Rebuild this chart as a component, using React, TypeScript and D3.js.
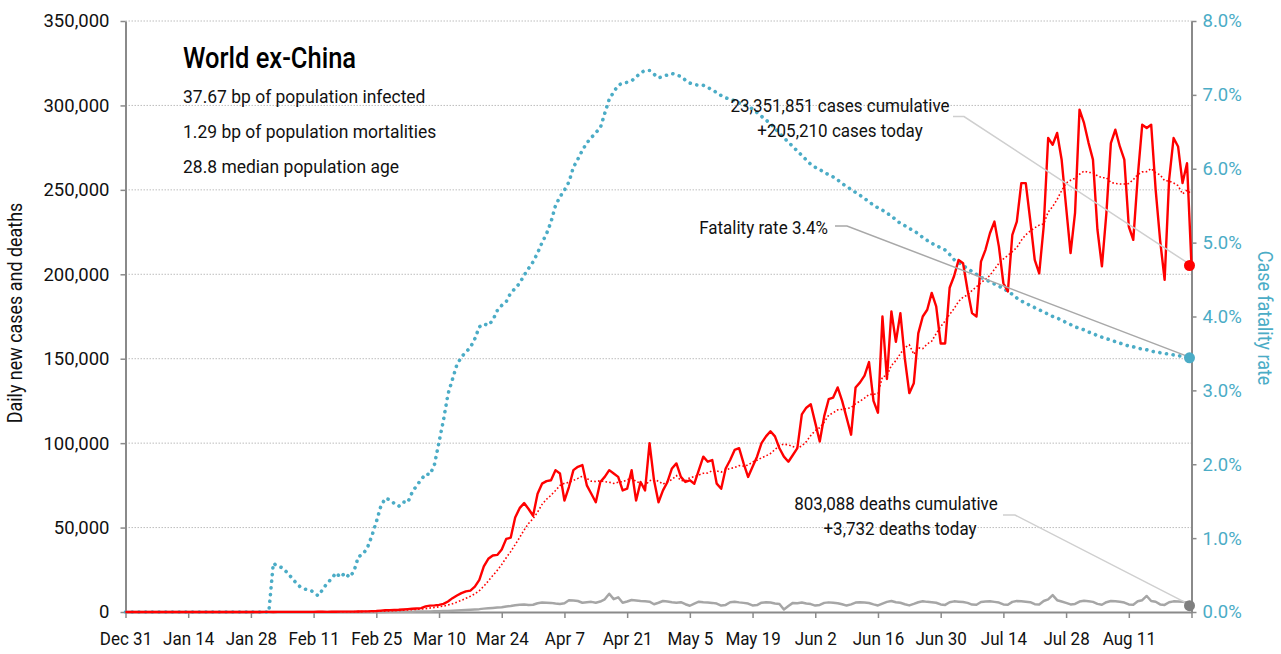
import React, { useEffect, useRef } from 'react';
import * as d3 from 'd3';

// x-axis labels, one every 14 days starting Dec 31
const dateLabels = [
  'Dec 31', 'Jan 14', 'Jan 28', 'Feb 11', 'Feb 25', 'Mar 10', 'Mar 24', 'Apr 7', 'Apr 21',
  'May 5', 'May 19', 'Jun 2', 'Jun 16', 'Jun 30', 'Jul 14', 'Jul 28', 'Aug 11'
];

// daily new cases, Dec 31 .. Aug 25 (one value per day)
const dailyCases = [
  0, 0, 0, 0, 0, 0, 0, 0, 0, 0,
  0, 0, 0, 1, 1, 2, 2, 3, 4, 6,
  8, 12, 14, 18, 25, 30, 22, 28, 35, 40,
  30, 45, 50, 40, 60, 55, 70, 60, 80, 90,
  100, 70, 80, 110, 120, 90, 150, 180, 200, 250,
  200, 250, 300, 350, 400, 500, 600, 800, 1000, 1100,
  1200, 1300, 1500, 1700, 1900, 2100, 2300, 3300, 3800, 3900,
  4200, 4800, 6200, 8200, 9800, 11200, 12200, 12700, 15000, 19000,
  27000, 31500, 33500, 33800, 37000, 43300, 44000, 56000, 61500, 64500,
  61000, 57000, 70000, 76000, 77500, 78000, 84000, 82000, 66000, 74000,
  84000, 86000, 87000, 75000, 70000, 65000, 77000, 80000, 84000, 82000,
  80000, 72000, 73000, 84000, 66000, 77000, 72000, 100000, 78000, 65000,
  72000, 77000, 85000, 88000, 80000, 77000, 78000, 76000, 84000, 92000,
  89000, 90000, 76000, 73000, 85000, 90000, 96000, 97000, 88000, 80000,
  86000, 92000, 100000, 104000, 107000, 104000, 97000, 92000, 89000, 93000,
  97000, 117000, 121000, 123000, 112000, 101000, 116000, 126000, 127000, 133000,
  125000, 115000, 105000, 133000, 136000, 140000, 148000, 125000, 118000, 175000,
  138000, 178000, 160000, 177000, 150000, 129600, 135500, 165000, 175000, 179000,
  189000, 181000, 159000, 159000, 192000, 199000, 208500, 206500, 190700, 177000,
  175000, 207500, 214500, 224300, 231200, 216400, 194700, 189800, 223400, 231200,
  254000, 254000, 232000, 208500, 200600, 228300, 280700, 276700, 283700, 268000,
  240000, 212600, 236300, 297500, 289600, 278000, 267900, 226400, 204700, 236300,
  277700, 285600, 275700, 267900, 228300, 220400, 257900, 288600, 286600, 288600,
  250000, 220000, 196700, 255900, 280700, 275700, 254000, 265800, 205210
];

// daily new deaths
const dailyDeaths = [
  0, 0, 0, 0, 0, 0, 0, 0, 0, 0,
  0, 0, 0, 0, 0, 0, 0, 0, 0, 0,
  0, 0, 0, 0, 0, 0, 0, 0, 0, 0,
  0, 0, 0, 1, 0, 0, 0, 0, 0, 0,
  0, 0, 1, 1, 2, 1, 2, 3, 5, 8,
  10, 15, 20, 25, 30, 40, 50, 60, 70, 80,
  100, 120, 150, 180, 200, 230, 270, 300, 340, 380,
  450, 550, 650, 750, 850, 1000, 1200, 1350, 1500, 1700,
  2000, 2200, 2400, 2600, 2800, 3300, 3600, 4000, 4300, 4400,
  4100, 4300, 5200, 5600, 5500, 5400, 5000, 4800, 5200, 7000,
  6800, 6500, 5500, 5800, 6000, 5500, 6200, 7500, 10800, 7600,
  8700, 5500, 6200, 7100, 6800, 6500, 6300, 6100, 4600, 5500,
  6500, 6200, 5800, 5500, 5800, 4600, 3700, 5000, 6100, 5800,
  5600, 5400, 5000, 3800, 4200, 5800, 6100, 5700, 5400, 5000,
  3900, 4100, 5500, 5800, 5600, 5000, 4700, 1500, 3500, 5400,
  5200, 5600, 5000, 4700, 3800, 4200, 5400, 5700, 5500, 5200,
  4600, 3800, 4500, 5600, 5800, 5600, 5300, 4500, 3900, 5000,
  6000, 6500, 5800, 5500, 4600, 3900, 4800, 5800, 6400, 6000,
  5800, 5500, 4500, 4200, 5800, 6300, 6100, 5900, 5400, 4400,
  4300, 5900, 6200, 6400, 6000, 5600, 4500, 4300, 6000, 6500,
  6400, 6100, 5800, 4600, 4400, 6500, 7500, 10000, 7000, 6200,
  5400, 4500, 4800, 6200, 6600, 6400, 6000, 4800, 4300, 5800,
  6500, 6400, 6100, 5600, 4500, 4300, 6400, 7000, 9500, 6500,
  6100, 4500, 4200, 5800, 6300, 6200, 6000, 5700, 3732
];

// case fatality rate, percent
const fatalityRate = [
  0, 0, 0, 0, 0, 0, 0, 0, 0, 0,
  0, 0, 0, 0, 0, 0, 0, 0, 0, 0,
  0, 0, 0, 0, 0, 0, 0, 0, 0, 0,
  0, 0, 0, 0.66, 0.62, 0.6, 0.54, 0.47, 0.4, 0.34,
  0.31, 0.3, 0.27, 0.22, 0.3, 0.39, 0.45, 0.53, 0.47, 0.53,
  0.47, 0.55, 0.75, 0.78, 0.87, 1.03, 1.22, 1.43, 1.54, 1.52,
  1.47, 1.43, 1.49, 1.48, 1.62, 1.71, 1.79, 1.87, 1.86, 2.0,
  2.3, 2.6, 2.95, 3.15, 3.35, 3.45, 3.52, 3.58, 3.7, 3.86,
  3.9, 3.88, 3.95, 4.08, 4.15, 4.2, 4.32, 4.38, 4.45, 4.56,
  4.65, 4.74, 4.86, 5.0, 5.12, 5.28, 5.5, 5.62, 5.71, 5.82,
  6.02, 6.13, 6.25, 6.35, 6.42, 6.49, 6.55, 6.75, 6.94, 7.04,
  7.13, 7.16, 7.17, 7.19, 7.24, 7.3, 7.33, 7.33, 7.28, 7.23,
  7.25, 7.27, 7.29, 7.27, 7.25, 7.2, 7.16, 7.14, 7.13, 7.13,
  7.1, 7.07, 7.03, 6.99, 6.96, 6.94, 6.92, 6.89, 6.87, 6.84,
  6.81, 6.76, 6.71, 6.66, 6.61, 6.55, 6.48, 6.42, 6.36, 6.3,
  6.24, 6.18, 6.12, 6.06, 6.02, 5.99, 5.95, 5.92, 5.89, 5.85,
  5.8, 5.76, 5.72, 5.68, 5.64, 5.6, 5.55, 5.51, 5.47, 5.44,
  5.4, 5.36, 5.31, 5.26, 5.23, 5.19, 5.16, 5.12, 5.07, 5.03,
  4.99, 4.96, 4.93, 4.9, 4.84, 4.77, 4.73, 4.69, 4.65, 4.61,
  4.57, 4.53, 4.5, 4.47, 4.44, 4.41, 4.38, 4.34, 4.3, 4.25,
  4.21, 4.18, 4.15, 4.12, 4.09, 4.06, 4.03, 4.0, 3.98, 3.95,
  3.92, 3.89, 3.86, 3.84, 3.82, 3.79, 3.77, 3.74, 3.72, 3.7,
  3.68, 3.66, 3.64, 3.62, 3.6, 3.59, 3.57, 3.56, 3.55, 3.53,
  3.52, 3.51, 3.5, 3.49, 3.48, 3.47, 3.46, 3.45, 3.44
];

const leftTicks = [0, 50000, 100000, 150000, 200000, 250000, 300000, 350000];
const rightTicks = [0, 1, 2, 3, 4, 5, 6, 7, 8];

const chartTitle = 'World ex-China';
const infoLines = [
  '37.67 bp of population infected',
  '1.29 bp of population mortalities',
  '28.8 median population age'
];
const casesNote = ['23,351,851 cases cumulative', '+205,210 cases today'];
const deathsNote = ['803,088 deaths cumulative', '+3,732 deaths today'];
const fatalityNote = 'Fatality rate 3.4%';

const FONT = "Roboto, 'Noto Sans', sans-serif";
const TEAL = '#4BACC6';
const RED = '#FF0000';
const SQ = 0.92; // horizontal squeeze to mimic the condensed face

// text helper: places a squeezed text with its anchor at (x, y)
function label(g, x, y, txt, { size = 18, anchor = 'start', fill = '#111', weight = 400, rotate = 0, sq = SQ } = {}) {
  g.append('text')
    .attr('transform', `translate(${x},${y}) rotate(${rotate}) scale(${sq},1)`)
    .attr('text-anchor', anchor)
    .attr('font-family', FONT)
    .attr('font-size', size)
    .attr('font-weight', weight)
    .attr('fill', fill)
    .text(txt);
}

export default function App() {
  const svgRef = useRef(null);

  useEffect(() => {
    const svg = d3.select(svgRef.current);
    svg.selectAll('*').remove();

    const left = 125.5, right = 1191.5, top = 21, bottom = 612;
    const last = dailyCases.length - 1;

    const x = d3.scaleLinear().domain([0, last]).range([left, right]);
    const y = d3.scaleLinear().domain([0, 350000]).range([bottom, top]);
    const y2 = d3.scaleLinear().domain([0, 8]).range([bottom, top]);

    // trailing 7-day average of the daily cases
    const casesAvg = dailyCases.map((_, i) => d3.mean(dailyCases.slice(Math.max(0, i - 6), i + 1)));

    // gridlines
    svg.append('g')
      .selectAll('line')
      .data(leftTicks.filter(t => t > 0))
      .join('line')
      .attr('x1', left).attr('x2', right)
      .attr('y1', d => y(d)).attr('y2', d => y(d))
      .attr('stroke', '#bdbdbd')
      .attr('stroke-width', 1)
      .attr('stroke-dasharray', '1.5,1.5');

    // axes
    const axisColor = '#8a8a8a';
    const styleAxis = (g) => {
      g.select('.domain').attr('stroke', axisColor).attr('stroke-width', 2);
      g.selectAll('.tick line').attr('stroke', axisColor).attr('stroke-width', 1.5);
      g.selectAll('.tick text').attr('font-family', FONT).attr('font-size', 18.5);
    };

    const xTicks = dateLabels.map((_, i) => i * 14).concat([last]);
    svg.append('g')
      .attr('transform', `translate(0,${bottom})`)
      .call(d3.axisBottom(x).tickValues(xTicks).tickSize(6).tickSizeOuter(0).tickPadding(14)
        .tickFormat((d, i) => dateLabels[i] || ''))
      .call(styleAxis)
      .call(g => g.selectAll('.tick text').attr('fill', '#111').attr('transform', `scale(${SQ},1)`));

    svg.append('g')
      .attr('transform', `translate(${left},0)`)
      .call(d3.axisLeft(y).tickValues(leftTicks).tickSize(5).tickSizeOuter(0).tickPadding(11)
        .tickFormat(d3.format(',')))
      .call(styleAxis)
      .call(g => g.selectAll('.tick text').attr('fill', '#111').attr('font-size', 18.5));

    svg.append('g')
      .attr('transform', `translate(${right},0)`)
      .call(d3.axisRight(y2).tickValues(rightTicks).tickSize(5).tickSizeOuter(0).tickPadding(6)
        .tickFormat(d => `${d3.format('.1f')(d)}%`))
      .call(styleAxis)
      .call(g => g.selectAll('.tick text').attr('fill', TEAL));

    // series
    const lineX = (d, i) => x(i);
    svg.append('path')
      .datum(dailyDeaths)
      .attr('fill', 'none')
      .attr('stroke', '#a6a6a6')
      .attr('stroke-width', 2.5)
      .attr('stroke-linejoin', 'round')
      .attr('d', d3.line().x(lineX).y(d => y(d)));

    svg.append('path')
      .datum(fatalityRate)
      .attr('fill', 'none')
      .attr('stroke', TEAL)
      .attr('stroke-width', 3.6)
      .attr('stroke-linecap', 'round')
      .attr('stroke-dasharray', '0.1,6.6')
      .attr('d', d3.line().x(lineX).y(d => y2(d)));

    svg.append('path')
      .datum(casesAvg)
      .attr('fill', 'none')
      .attr('stroke', RED)
      .attr('stroke-width', 1.6)
      .attr('stroke-dasharray', '1.6,2.2')
      .attr('d', d3.line().x(lineX).y(d => y(d)));

    svg.append('path')
      .datum(dailyCases)
      .attr('fill', 'none')
      .attr('stroke', RED)
      .attr('stroke-width', 2.4)
      .attr('stroke-linejoin', 'round')
      .attr('d', d3.line().x(lineX).y(d => y(d)));

    // leader lines from notes to the last points
    const leader = (pts, color) => {
      svg.append('path')
        .attr('d', d3.line()(pts))
        .attr('fill', 'none')
        .attr('stroke', color)
        .attr('stroke-width', 1.5);
    };
    leader([[953, 116.5], [964, 116.5], [x(last), y(dailyCases[last])]], '#cfcfcf');
    leader([[835, 226], [847, 226], [x(last), y2(fatalityRate[last])]], '#a8a8a8');
    leader([[1003, 515], [1015, 515], [x(last), y(dailyDeaths[last])]], '#cfcfcf');

    // end markers
    const dot = (cy, color) => svg.append('circle')
      .attr('cx', x(last) - 2).attr('cy', cy).attr('r', 5.5).attr('fill', color);
    dot(y(dailyCases[last]), RED);
    dot(y2(fatalityRate[last]), TEAL);
    dot(y(dailyDeaths[last]), '#7f7f7f');

    // texts
    const t = svg.append('g');
    label(t, 183, 68, chartTitle, { size: 30, weight: 500, fill: '#000', sq: 0.85 });
    infoLines.forEach((s, i) => label(t, 183, 103 + i * 35, s, { size: 19 }));
    label(t, 840, 112, casesNote[0], { size: 18.5, anchor: 'middle' });
    label(t, 840, 137, casesNote[1], { size: 18.5, anchor: 'middle' });
    label(t, 828, 234, fatalityNote, { size: 18.5, anchor: 'end' });
    label(t, 896, 510, deathsNote[0], { size: 18.5, anchor: 'middle' });
    label(t, 900, 535, deathsNote[1], { size: 18.5, anchor: 'middle' });
    label(t, 22, 313, 'Daily new cases and deaths', { size: 19.5, anchor: 'middle', rotate: -90 });
    label(t, 1258, 318, 'Case fatality rate', { size: 19.5, anchor: 'middle', rotate: 90, fill: TEAL });
  }, []);

  return (
    <svg
      ref={svgRef}
      width={1281}
      height={654}
      style={{ position: 'absolute', left: 0, top: 0, background: '#fff' }}
    />
  );
}
